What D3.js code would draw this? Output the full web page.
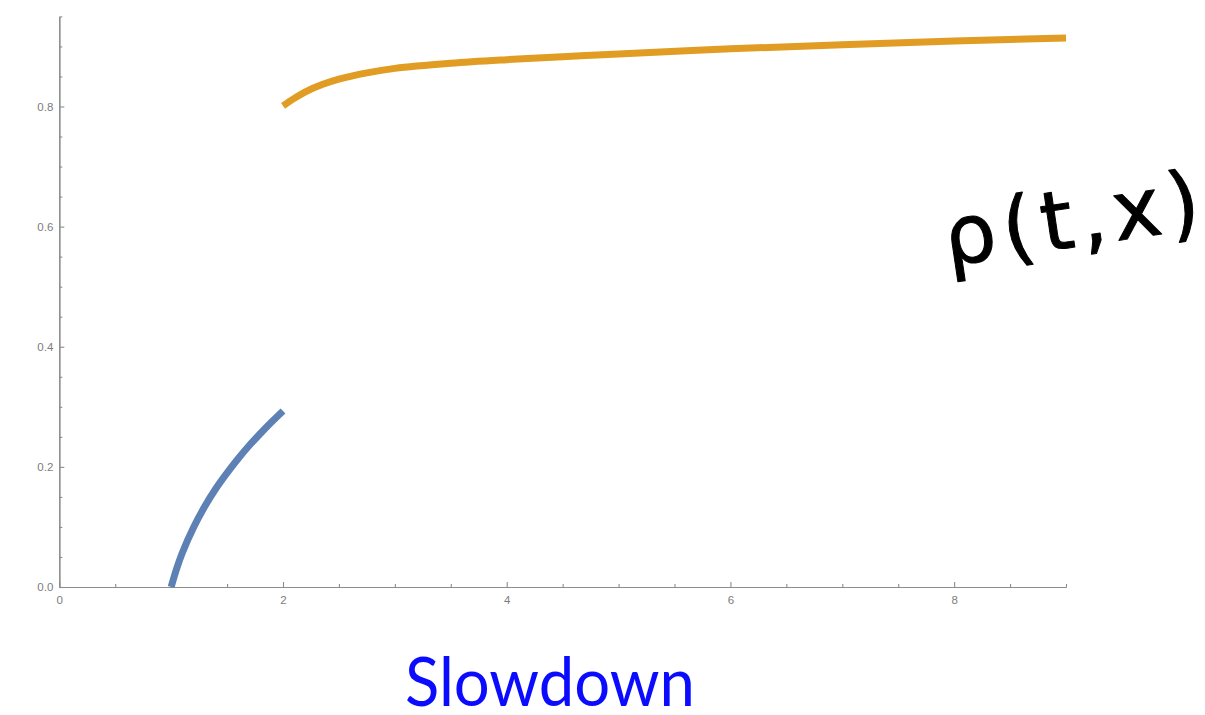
<!DOCTYPE html>
<html>
<head>
<meta charset="utf-8">
<script src="https://cdn.jsdelivr.net/npm/d3@7"></script>
<style>
  html, body { margin: 0; padding: 0; background: #fff; overflow: hidden; }
  svg { display: block; }
</style>
</head>
<body>
<svg id="chart" width="1205" height="715"></svg>
<script>
// Density branches before and after the slowdown point
const lowX  = [1, 1.05, 1.1, 1.2, 1.3, 1.4, 1.5, 1.6, 1.7, 1.8, 1.9, 2];
const lowY  = [0, 0.031, 0.057, 0.099, 0.134, 0.164, 0.190, 0.214, 0.236, 0.256, 0.275, 0.293];
const highX = [2, 2.1, 2.2, 2.35, 2.5, 2.75, 3, 3.5, 4, 4.5, 5, 6, 7, 8, 9];
const highY = [0.801, 0.8135, 0.8245, 0.8365, 0.8455, 0.856, 0.8635, 0.872, 0.878, 0.883, 0.8875, 0.896, 0.903, 0.909, 0.914];

const xMajor = [0, 2, 4, 6, 8];
const yMajor = [0, 0.2, 0.4, 0.6, 0.8];
const xMinor = [0.5, 1, 1.5, 2.5, 3, 3.5, 4.5, 5, 5.5, 6.5, 7, 7.5, 8.5, 9];
const yMinor = [0.05, 0.1, 0.15, 0.25, 0.3, 0.35, 0.45, 0.5, 0.55, 0.65, 0.7, 0.75, 0.85, 0.9, 0.95];

const titleText = "Slowdown";
const noteText = "ρ(t,x)";

const svg = d3.select("#chart");

const x = d3.scaleLinear().domain([0, 9]).range([59.3, 1066]);
const y = d3.scaleLinear().domain([0, 0.95]).range([587, 16.4]);

const axisColor = "#8c8c8c";
const labelColor = "#7c7c7c";

function styleAxis(g) {
  g.select(".domain").attr("stroke", axisColor).attr("stroke-width", 1.2);
  g.selectAll(".tick line").attr("stroke", axisColor).attr("stroke-width", 1.1);
  g.selectAll(".tick text")
    .attr("fill", labelColor)
    .attr("font-family", "Liberation Sans, Arial, sans-serif")
    .attr("font-size", 11.5);
}

// minor ticks
svg.append("g")
  .attr("transform", `translate(0,${y(0)})`)
  .call(d3.axisBottom(x).tickValues(xMinor).tickSize(-3).tickSizeOuter(0).tickFormat(""))
  .call(styleAxis);
svg.append("g")
  .attr("transform", `translate(${x(0)},0)`)
  .call(d3.axisLeft(y).tickValues(yMinor).tickSize(-3).tickSizeOuter(0).tickFormat(""))
  .call(styleAxis);

// major ticks with labels
svg.append("g")
  .attr("transform", `translate(0,${y(0)})`)
  .call(d3.axisBottom(x).tickValues(xMajor).tickSize(-5).tickSizeOuter(0).tickPadding(9)
    .tickFormat(d3.format("d")))
  .call(styleAxis);
svg.append("g")
  .attr("transform", `translate(${x(0)},0)`)
  .call(d3.axisLeft(y).tickValues(yMajor).tickSize(-5).tickSizeOuter(0).tickPadding(6)
    .tickFormat(d3.format(".1f")))
  .call(styleAxis);

const line = d3.line()
  .x(d => x(d[0]))
  .y(d => y(d[1]))
  .curve(d3.curveCatmullRom.alpha(0.5));

svg.append("path")
  .datum(lowX.map((v, i) => [v, lowY[i]]))
  .attr("d", line)
  .attr("fill", "none")
  .attr("stroke", "#5e81b5")
  .attr("stroke-width", 7);

svg.append("path")
  .datum(highX.map((v, i) => [v, highY[i]]))
  .attr("d", line)
  .attr("fill", "none")
  .attr("stroke", "#e19c24")
  .attr("stroke-width", 7);

// hand-written annotation
svg.append("text")
  .attr("transform", "translate(948,266) rotate(-8.5)")
  .attr("font-family", "DejaVu Sans, sans-serif")
  .attr("font-size", 82)
  .attr("letter-spacing", 7)
  .attr("fill", "#000")
  .attr("stroke", "#000")
  .attr("stroke-width", 1)
  .attr("stroke-linejoin", "round")
  .text(noteText);

// caption
svg.append("text")
  .attr("x", 550)
  .attr("y", 706)
  .attr("text-anchor", "middle")
  .attr("font-family", "Lato, sans-serif")
  .attr("font-size", 68)
  .attr("textLength", 290)
  .attr("lengthAdjust", "spacingAndGlyphs")
  .attr("fill", "#0b0bff")
  .text(titleText);
</script>
</body>
</html>
